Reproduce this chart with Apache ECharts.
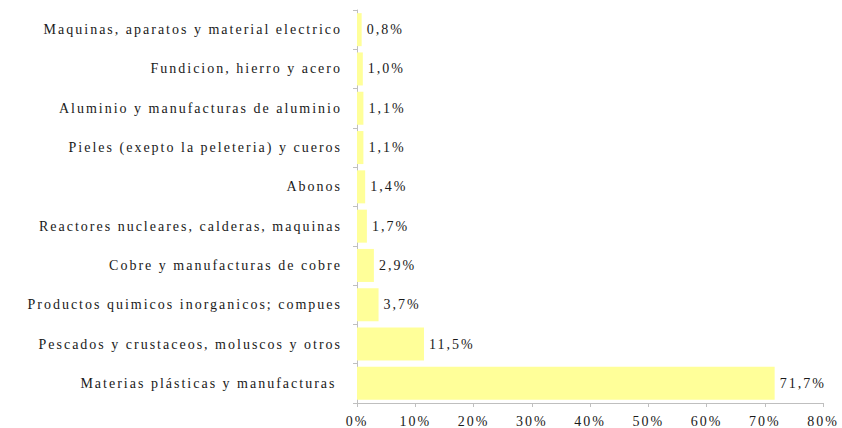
<!DOCTYPE html>
<html>
<head>
<meta charset="utf-8">
<script src="https://cdn.jsdelivr.net/npm/echarts@6/dist/echarts.min.js"></script>
<style>
  html, body { margin: 0; padding: 0; background: #fff; }
  #chart { width: 842px; height: 428px; }
  /* the reference text is a widely spaced serif */
  #chart text {
    font-family: "Liberation Serif", "DejaVu Serif", serif !important;
    letter-spacing: 2px;
    white-space: pre;
  }
</style>
</head>
<body>
<div id="chart"></div>
<script>
// categories from bottom to top
var categories = [
  "Materias plásticas y manufacturas ",
  "Pescados y crustaceos, moluscos y otros",
  "Productos quimicos inorganicos; compues",
  "Cobre y manufacturas de cobre",
  "Reactores nucleares, calderas, maquinas",
  "Abonos",
  "Pieles (exepto la peleteria) y cueros",
  "Aluminio y manufacturas de aluminio",
  "Fundicion, hierro y acero",
  "Maquinas, aparatos y material electrico"
];
var shares = [71.7, 11.5, 3.7, 2.9, 1.7, 1.4, 1.1, 1.1, 1.0, 0.8];
var xTicks = [0, 10, 20, 30, 40, 50, 60, 70, 80];

var font = "Liberation Serif";
var chart = echarts.init(document.getElementById("chart"), null, { renderer: "svg" });
chart.setOption({
  animation: false,
  grid: { left: 357, right: 19, top: 10, bottom: 25 },
  xAxis: {
    type: "value",
    min: xTicks[0],
    max: xTicks[xTicks.length - 1],
    interval: 10,
    splitLine: { show: false },
    axisLine: { show: true, lineStyle: { color: "#bfbfbf" } },
    axisTick: { show: true, length: 4, lineStyle: { color: "#bfbfbf" } },
    axisLabel: {
      color: "#1a1a1a",
      fontFamily: font,
      fontSize: 14,
      margin: 11,
      formatter: function (v) { return v + "%"; }
    }
  },
  yAxis: {
    type: "category",
    data: categories,
    axisLine: { show: true, lineStyle: { color: "#bfbfbf" } },
    axisTick: { show: true, length: 4, lineStyle: { color: "#bfbfbf" } },
    axisLabel: {
      color: "#1a1a1a",
      fontFamily: font,
      fontSize: 14,
      margin: 15,
      padding: [3, 0, 0, 0]
    }
  },
  series: [{
    type: "bar",
    data: shares,
    barCategoryGap: "16%",
    itemStyle: { color: "#ffff99" },
    label: {
      show: true,
      position: "right",
      distance: 5,
      color: "#1a1a1a",
      fontFamily: font,
      fontSize: 14,
      padding: [3, 0, 0, 0],
      formatter: function (p) { return p.value.toFixed(1).replace(".", ",") + "%"; }
    }
  }]
});
</script>
</body>
</html>
